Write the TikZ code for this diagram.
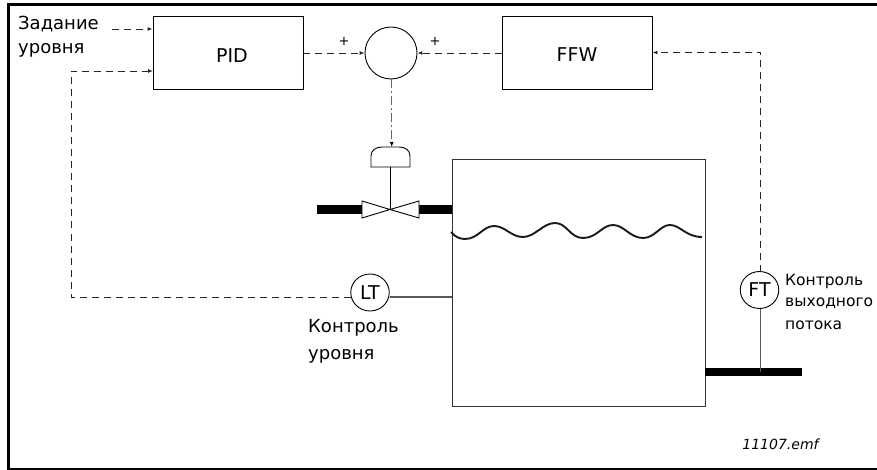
\documentclass[tikz,border=0pt]{standalone}
\usepackage{fontspec}
\setmainfont{DejaVu Sans}
\usetikzlibrary{arrows.meta,shapes.geometric}
\tikzset{
  x=1pt,y=-1pt,
  thin line/.style={draw=black,line width=0.9pt},
  gray line/.style={draw=black!65,line width=1.1pt},
  signal/.style={draw=black!85,line width=0.9pt,dash pattern=on 7pt off 5pt,-{Latex[length=5pt,width=4pt]}},
  pipe/.style={draw=black,line width=8.5pt},
  blockbox/.style={draw=black,line width=0.9pt,fill=white,minimum width=150pt,minimum height=73pt,inner sep=0pt},
  blocktext/.style={inner sep=0pt,font=\fontsize{19}{21}\selectfont},
  sumcircle/.style={circle,draw=black,line width=0.9pt,fill=white,minimum size=52pt,inner sep=0pt},
  instr/.style={ellipse,draw=black,line width=0.9pt,fill=white,minimum width=38.5pt,minimum height=37pt,inner sep=0pt,font=\fontsize{19}{21}\selectfont},
  lbl/.style={anchor=west,align=left,inner sep=0pt,font=\fontsize{18}{22}\selectfont},
  lblsmall/.style={lbl,font=\fontsize{15.5}{18}\selectfont},
  sign/.style={inner sep=0pt,font=\fontsize{13}{15}\selectfont},
}
\begin{document}
\begin{tikzpicture}
\useasboundingbox (0,0) rectangle (877,470);
\fill[white] (0,0) rectangle (877,470);
% frame (its right side lies beyond the picture)
\fill[black] (6.5,3) rectangle (877,6.5);
\fill[black] (6.5,3) rectangle (9.5,470);
\fill[black] (6.5,468) rectangle (877,470);
% tank
\node[draw=black!80,line width=1pt,minimum width=253pt,minimum height=246pt,inner sep=0pt] (tank) at (578.5,283) {};
% valve
\coordinate (vc) at (390,209.5);
\coordinate (vl) at (362,209.5);
\coordinate (vr) at (419,209.5);
\coordinate (act) at (390,167);
\coordinate (p1) at (317,209.5);
\coordinate (p2) at (452,209.5);
\coordinate (p3) at (705,372);
\coordinate (p4) at (802,372);
\draw[pipe] (p1) -- (vl);
\draw[pipe] (vr) -- (p2);
\draw[pipe] (p3) -- (p4);
\draw[thin line,fill=white] (vc) -- (362,201) -- (362,218) -- cycle;
\draw[thin line,fill=white] (vc) -- (419,201) -- (419,218) -- cycle;
\draw[thin line] (vc) -- (act);
\draw[thin line,fill=white] (371,167) -- (371,156) .. controls (371,150) and (376,147) .. (382,147) -- (399,147) .. controls (405,147) and (410,150) .. (410,156) -- (410,167) -- cycle;
\coordinate (actop) at (391.7,147);
% blocks
\node[blockbox] (pid) at (228,52.5) {};
\node[blocktext] (pidt) at (232,56) {PID};
\node[blockbox] (ffw) at (577,52.5) {};
\node[blocktext] (ffwt) at (577,55) {FFW};
\node[sumcircle] (sum) at (391,53) {};
\node[instr] (lt) at (370,292.5) {LT};
\node[instr] (ft) at (759.5,290) {FT};
% water
\draw[line width=1.9pt,draw=black!90] (451,232) .. controls (455,237) and (460,239) .. (465,239) .. controls (478,239) and (483,226) .. (494,226) .. controls (505,226) and (511,237) .. (523,237) .. controls (535,237) and (543,223) .. (555,223) .. controls (567,223) and (570,238) .. (583,238) .. controls (597,238) and (602,225) .. (613,225) .. controls (624,225) and (630,238) .. (643,238) .. controls (655,238) and (660,225) .. (670,225) .. controls (680,225) and (686,237) .. (702,237);
% signals
\coordinate (sp) at (112,29);
\coordinate (fbk) at (71,71);
\coordinate (fbb) at (71,297);
\coordinate (fbin) at (153,71);
\coordinate (ltl) at (350.5,297);
\coordinate (ltr) at (389.5,297);
\coordinate (ffin) at (760.7,52.5);
\coordinate (fttop) at (760.7,271.5);
\coordinate (ftbot) at (760.7,308.5);
\draw[signal] (sp) -- (pid.west |- sp);
\draw[signal] (ltl) -- (fbb) -- (fbk) -- (fbin);
\draw[signal] (pid.east |- sum) -- (sum.west);
\draw[signal] (ffw.west |- sum) -- (sum.east);
\draw[signal] (fttop) -- (ffin) -- (ffw.east |- ffin);
\draw[draw=black!60,line width=1.1pt,dash pattern=on 9pt off 3pt on 2pt off 3pt,-{Latex[length=5pt,width=4pt,black]}] (sum.south -| actop) -- (actop);
% sensor lines
\draw[gray line] (ltr) -- (ltr -| tank.west);
\draw[gray line] (ftbot) -- (ftbot |- p3);
% labels
\node[lbl] (l1) at (18,24) {Задание};
\node[lbl] (l2) at (18,50.5) {уровня};
\node[lbl] (l3) at (308,328) {Контроль};
\node[lbl] (l4) at (308,356) {уровня};
\node[lblsmall] (l5) at (785,281.5) {Контроль};
\node[lblsmall] (l6) at (785,303) {выходного};
\node[lblsmall] (l7) at (785,325) {потока};
\node[sign] (s1) at (344,41) {+};
\node[sign] (s2) at (435,41) {+};
\node[inner sep=0pt,font=\fontsize{14}{16}\selectfont\itshape] (l8) at (780.5,444) {11107.emf};
\end{tikzpicture}
\end{document}
